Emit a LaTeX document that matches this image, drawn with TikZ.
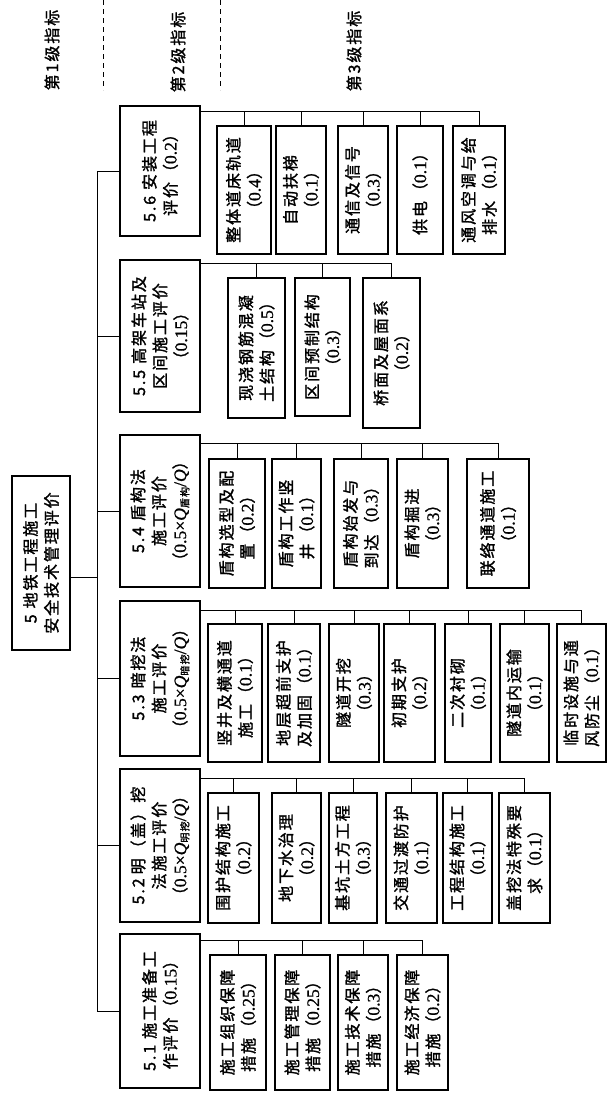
\documentclass[tikz,border=0pt]{standalone}
\usepackage{fontspec}
\setmainfont{Noto Sans CJK SC}[LetterSpace=12,FakeBold=1.6]
\newfontfamily\numf{Liberation Serif}[Scale=1.1,FakeBold=0.8]
\newcommand\nm[1]{{\numf #1}}
\newcommand\qq[1]{{\numf\itshape Q}\raisebox{-2.5pt}{\fontsize{10}{10}\selectfont #1}}
\newcommand\bx[6]{\node[box,minimum width={(#5-#3)*1pt},minimum height={(#4-#2)*1pt}] (#1) at ({(#2+#4)/2},{(#3+#5)/2}) {#6};}
\begin{document}
\begin{tikzpicture}[x=1pt,y=-1pt,
  box/.style={draw,line width=1.6pt,rotate=90,align=center,inner sep=1pt,outer sep=0pt,font=\fontsize{16}{21}\selectfont},
  conn/.style={line width=1pt},
  hdr/.style={rotate=90,inner sep=0pt,font=\fontsize{16}{21}\selectfont},
  sep/.style={line width=1pt,dash pattern=on 5pt off 4pt}]
\useasboundingbox (0,0) rectangle (607,1093);
% header
\node[hdr] (h1) at (52,50) {第1级指标};
\node[hdr] (h2) at (178,52) {第2级指标};
\node[hdr] (h3) at (354,51) {第3级指标};
\coordinate (d1a) at (103,0); \coordinate (d1b) at (103,90);
\coordinate (d2a) at (220,0); \coordinate (d2b) at (220,90);
\draw[sep] (d1a) -- (d1b);
\draw[sep] (d2a) -- (d2b);
% root and level 2
\bx{root}{12}{476}{70}{650}{5\hspace{6pt}地铁工程施工\\安全技术管理评价}
\bx{n56}{120}{106}{200}{236}{5.6\hspace{6pt}安装工程\\评价（\nm{0.2}）}
\bx{n55}{120}{260}{200}{412}{5.5\hspace{6pt}高架车站及\\区间施工评价\\（\nm{0.15}）}
\bx{n54}{120}{435}{200}{587}{5.4\hspace{6pt}盾构法\\施工评价\\（\nm{0.5×}\qq{盾构}\nm{/}{\numf\itshape Q}）}
\bx{n53}{120}{601}{200}{756}{5.3\hspace{6pt}暗挖法\\施工评价\\（\nm{0.5×}\qq{暗挖}\nm{/}{\numf\itshape Q}）}
\bx{n52}{120}{769}{200}{922}{5.2\hspace{4pt}明（盖）挖\\法施工评价\\（\nm{0.5×}\qq{明挖}\nm{/}{\numf\itshape Q}）}
\bx{n51}{120}{934}{200}{1088}{5.1\hspace{6pt}施工准备工\\作评价（\nm{0.15}）}
% 5.6 children
\bx{c61}{217}{126}{271}{254}{整体道床轨道\\（\nm{0.4}）}
\bx{c62}{276}{126}{326}{254}{自动扶梯\\（\nm{0.1}）}
\bx{c63}{338}{126}{388}{254}{通信及信号\\（\nm{0.3}）}
\bx{c64}{397}{126}{443}{254}{供电（\nm{0.1}）}
\bx{c65}{453}{126}{505}{254}{通风空调与给\\排水（\nm{0.1}）}
% 5.5 children
\bx{c51}{228}{278}{285}{418}{现浇钢筋混凝\\土结构（\nm{0.5}）}
\bx{c52}{295}{278}{350}{416}{区间预制结构\\（\nm{0.3}）}
\bx{c53}{363}{278}{420}{428}{桥面及屋面系\\（\nm{0.2}）}
% 5.4 children
\bx{c41}{209}{459}{265}{588}{盾构选型及配\\置（\nm{0.2}）}
\bx{c42}{272}{459}{321}{588}{盾构工作竖\\井（\nm{0.1}）}
\bx{c43}{334}{459}{388}{588}{盾构始发与\\到达（\nm{0.3}）}
\bx{c44}{397}{459}{448}{588}{盾构掘进\\（\nm{0.3}）}
\bx{c45}{467}{459}{529}{588}{联络通道施工\\（\nm{0.1}）}
% 5.3 children
\bx{c31}{208}{624}{262}{762}{竖井及横通道\\施工（\nm{0.1}）}
\bx{c32}{268}{624}{320}{762}{地层超前支护\\及加固（\nm{0.1}）}
\bx{c33}{329}{624}{379}{762}{隧道开挖\\（\nm{0.3}）}
\bx{c34}{384}{624}{435}{762}{初期支护\\（\nm{0.2}）}
\bx{c35}{445}{624}{491}{762}{二次衬砌\\（\nm{0.1}）}
\bx{c36}{500}{624}{549}{762}{隧道内运输\\（\nm{0.1}）}
\bx{c37}{557}{624}{606}{762}{临时设施与通\\风防尘（\nm{0.1}）}
% 5.2 children
\bx{c21}{208}{793}{259}{923}{围护结构施工\\（\nm{0.2}）}
\bx{c22}{272}{793}{321}{923}{地下水治理\\（\nm{0.2}）}
\bx{c23}{329}{793}{377}{923}{基坑土方工程\\（\nm{0.3}）}
\bx{c24}{386}{793}{437}{923}{交通过渡防护\\（\nm{0.1}）}
\bx{c25}{443}{793}{492}{923}{工程结构施工\\（\nm{0.1}）}
\bx{c26}{499}{793}{550}{923}{盖挖法特殊要\\求（\nm{0.1}）}
% 5.1 children
\bx{c11}{210}{955}{266}{1090}{施工组织保障\\措施（\nm{0.25}）}
\bx{c12}{275}{955}{330}{1090}{施工管理保障\\措施（\nm{0.25}）}
\bx{c13}{338}{955}{388}{1090}{施工技术保障\\措施（\nm{0.3}）}
\bx{c14}{397}{955}{448}{1090}{施工经济保障\\措施（\nm{0.2}）}
% trunk
\coordinate (tr) at (97,0);
\draw[conn] (n56.north -| tr) -- (n51.north -| tr);
\draw[conn] (root.south |- 0,577) -- (tr |- 0,577);
\foreach \n in {n56,n55,n54,n53,n52,n51}{\draw[conn] (\n.north) -- (\n.north -| tr);}
% buses
\draw[conn] (n56.south |- 0,111) -- (c65.east |- 0,111);
\foreach \c in {c61,c62,c63,c64,c65}{\draw[conn] (\c.east |- 0,111) -- (\c.east);}
\draw[conn] (n55.south |- 0,263) -- (c53.east |- 0,263);
\foreach \c in {c51,c52,c53}{\draw[conn] (\c.east |- 0,263) -- (\c.east);}
\draw[conn] (n54.south |- 0,443) -- (c45.east |- 0,443);
\foreach \c in {c41,c42,c43,c44,c45}{\draw[conn] (\c.east |- 0,443) -- (\c.east);}
\draw[conn] (n53.south |- 0,610) -- (c37.east |- 0,610);
\foreach \c in {c31,c32,c33,c34,c35,c36,c37}{\draw[conn] (\c.east |- 0,610) -- (\c.east);}
\draw[conn] (n52.south |- 0,778) -- (c26.east |- 0,778);
\foreach \c in {c21,c22,c23,c24,c25,c26}{\draw[conn] (\c.east |- 0,778) -- (\c.east);}
\draw[conn] (n51.south |- 0,940) -- (c14.east |- 0,940);
\foreach \c in {c11,c12,c13,c14}{\draw[conn] (\c.east |- 0,940) -- (\c.east);}
\end{tikzpicture}
\end{document}
